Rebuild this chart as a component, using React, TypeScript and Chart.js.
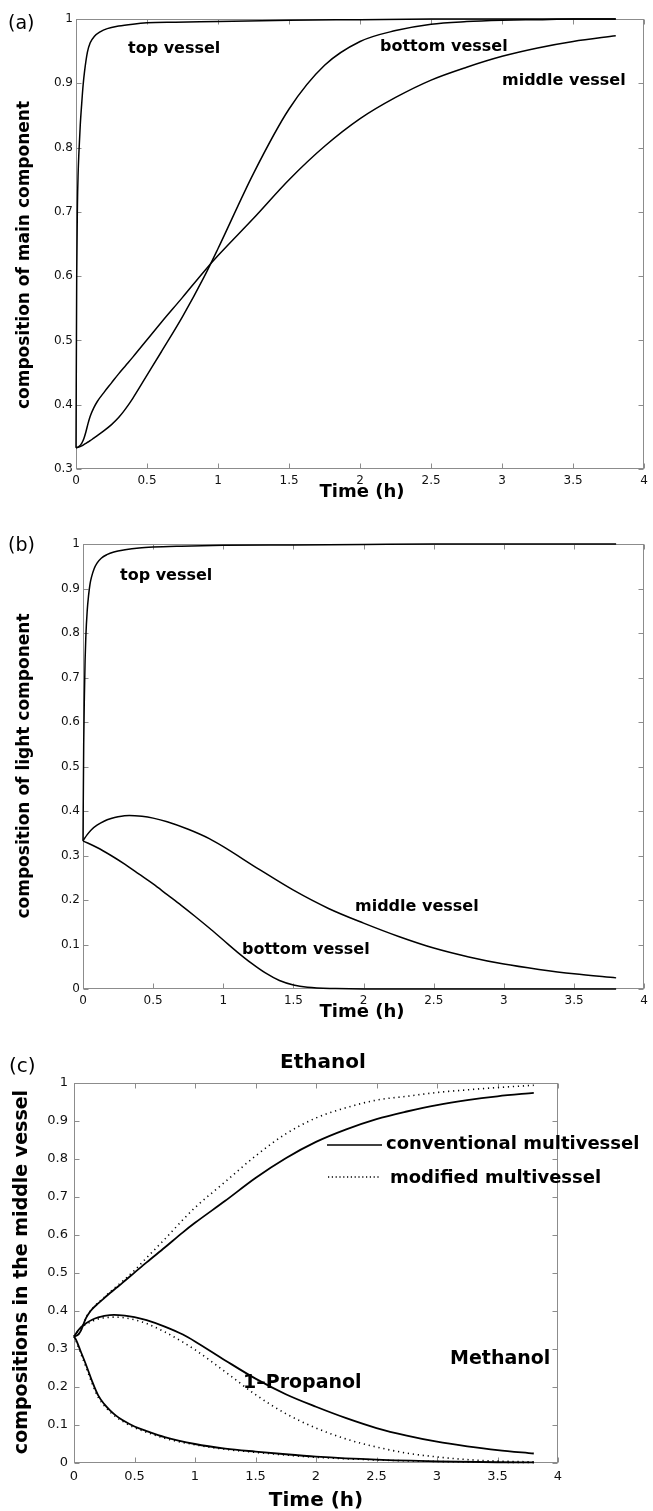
import React, { useEffect, useRef } from "react";
import { Chart, registerables } from "chart.js";

Chart.register(...registerables);

// ---------- tick labels ----------
const xTicks = [0, 0.5, 1, 1.5, 2, 2.5, 3, 3.5, 4];
const yTicksA = [0.3, 0.4, 0.5, 0.6, 0.7, 0.8, 0.9, 1];
const yTicksB = [0, 0.1, 0.2, 0.3, 0.4, 0.5, 0.6, 0.7, 0.8, 0.9, 1];

// ---------- (a) composition of main component ----------
const tTop = [0, 0.005, 0.01, 0.015, 0.02, 0.03, 0.04, 0.05, 0.06, 0.08, 0.1, 0.13, 0.17, 0.22, 0.3, 0.4, 0.5, 0.7, 1.0, 1.5, 2.0, 2.5, 3.0, 3.5, 3.8];
const aTop = [0.333, 0.6, 0.71, 0.76, 0.79, 0.835, 0.868, 0.897, 0.918, 0.948, 0.963, 0.973, 0.98, 0.985, 0.989, 0.992, 0.994, 0.995, 0.996, 0.998, 0.999, 1.0, 1.0, 1.0, 1.0];
const tA = [0, 0.02, 0.04, 0.055, 0.07, 0.085, 0.1, 0.125, 0.15, 0.2, 0.25, 0.3, 0.35, 0.4, 0.5, 0.6, 0.75, 0.9, 1.0, 1.25, 1.5, 1.75, 2.0, 2.25, 2.5, 2.75, 3.0, 3.25, 3.5, 3.8];
const aMiddle = [0.333, 0.335, 0.34, 0.347, 0.358, 0.371, 0.382, 0.395, 0.405, 0.42, 0.434, 0.448, 0.461, 0.474, 0.501, 0.528, 0.567, 0.607, 0.632, 0.69, 0.75, 0.802, 0.845, 0.878, 0.905, 0.925, 0.942, 0.955, 0.965, 0.974];
const aBottom = [0.333, 0.334, 0.336, 0.338, 0.34, 0.342, 0.344, 0.348, 0.352, 0.36, 0.369, 0.38, 0.394, 0.41, 0.446, 0.482, 0.537, 0.598, 0.643, 0.76, 0.86, 0.928, 0.965, 0.982, 0.992, 0.996, 0.998, 0.999, 1.0, 1.0];

// ---------- (b) composition of light component ----------
const bTop = [0.333, 0.55, 0.66, 0.74, 0.79, 0.85, 0.885, 0.91, 0.925, 0.945, 0.957, 0.968, 0.976, 0.982, 0.987, 0.991, 0.993, 0.995, 0.997, 0.998, 0.999, 1.0, 1.0, 1.0, 1.0];
const tB = [0, 0.03, 0.06, 0.1, 0.15, 0.2, 0.25, 0.33, 0.42, 0.5, 0.6, 0.75, 0.9, 1.0, 1.25, 1.5, 1.75, 2.0, 2.25, 2.5, 2.75, 3.0, 3.25, 3.5, 3.8];
const bMiddle = [0.333, 0.347, 0.358, 0.368, 0.377, 0.383, 0.387, 0.39, 0.388, 0.384, 0.376, 0.359, 0.338, 0.32, 0.27, 0.222, 0.181, 0.148, 0.118, 0.092, 0.072, 0.056, 0.044, 0.034, 0.025];
const tBb = [0, 0.1, 0.2, 0.3, 0.4, 0.5, 0.6, 0.7, 0.8, 0.9, 1.0, 1.1, 1.2, 1.3, 1.4, 1.5, 1.6, 1.8, 2.0, 2.5, 3.0, 3.5, 3.8];
const bBottom = [0.333, 0.318, 0.3, 0.28, 0.258, 0.236, 0.212, 0.188, 0.163, 0.137, 0.11, 0.083, 0.058, 0.036, 0.019, 0.009, 0.004, 0.001, 0, 0, 0, 0, 0];

// ---------- (c) compositions in the middle vessel ----------
const cEthanolConv = aMiddle;
const cEthanolMod = [0.333, 0.335, 0.34, 0.347, 0.358, 0.371, 0.383, 0.396, 0.406, 0.422, 0.436, 0.451, 0.464, 0.478, 0.507, 0.54, 0.589, 0.64, 0.672, 0.74, 0.808, 0.866, 0.908, 0.935, 0.955, 0.965, 0.975, 0.982, 0.988, 0.994];
const cPropConv = bMiddle;
const cPropMod = [0.333, 0.346, 0.356, 0.365, 0.373, 0.379, 0.382, 0.384, 0.382, 0.377, 0.367, 0.345, 0.318, 0.298, 0.24, 0.18, 0.13, 0.092, 0.063, 0.042, 0.026, 0.016, 0.009, 0.005, 0.003];
const tM = [0, 0.02, 0.05, 0.1, 0.15, 0.2, 0.25, 0.3, 0.35, 0.4, 0.5, 0.6, 0.75, 1.0, 1.25, 1.5, 1.75, 2.0, 2.5, 3.0, 3.5, 3.8];
const cMethConv = [0.333, 0.322, 0.298, 0.258, 0.215, 0.178, 0.155, 0.138, 0.124, 0.113, 0.096, 0.084, 0.068, 0.05, 0.038, 0.03, 0.023, 0.017, 0.009, 0.0045, 0.002, 0.0015];
const cMethMod = [0.333, 0.319, 0.293, 0.252, 0.209, 0.173, 0.151, 0.134, 0.121, 0.11, 0.093, 0.081, 0.065, 0.048, 0.036, 0.028, 0.021, 0.015, 0.008, 0.004, 0.002, 0.001];

const pts = (t: number[], v: number[]) => t.map((x, i) => ({ x, y: v[i] }));
const fmt = (v: number) => String(Number(Number(v).toFixed(2)));

const SANS = '"DejaVu Sans", sans-serif';

type Txt = { text: string; x: number; y: number; font: string; align?: CanvasTextAlign; baseline?: CanvasTextBaseline; rotate?: boolean };
type Seg = { x1: number; x2: number; y: number; dash?: number[] };

function framePlugin(texts: Txt[], segs: Seg[]) {
  return {
    id: "frame",
    beforeDatasetsDraw(chart: any) {
      const { ctx, chartArea } = chart;
      const l = Math.round(chartArea.left) + 0.5;
      const r = Math.round(chartArea.right) - 0.5;
      const t = Math.round(chartArea.top) + 0.5;
      const b = Math.round(chartArea.bottom) - 0.5;
      ctx.save();
      ctx.strokeStyle = "#8c8c8c";
      ctx.lineWidth = 1;
      ctx.strokeRect(l, t, r - l, b - t);
      const xs = chart.scales.x;
      const ys = chart.scales.y;
      const L = 5;
      ctx.beginPath();
      xs.ticks.forEach((tk: any) => {
        const px = Math.round(xs.getPixelForValue(tk.value)) + 0.5;
        ctx.moveTo(px, b);
        ctx.lineTo(px, b - L);
        ctx.moveTo(px, t);
        ctx.lineTo(px, t + L);
      });
      ys.ticks.forEach((tk: any) => {
        const py = Math.round(ys.getPixelForValue(tk.value)) + 0.5;
        ctx.moveTo(l, py);
        ctx.lineTo(l + L, py);
        ctx.moveTo(r, py);
        ctx.lineTo(r - L, py);
      });
      ctx.stroke();
      ctx.restore();
    },
    afterDraw(chart: any) {
      const { ctx } = chart;
      ctx.save();
      ctx.fillStyle = "#000";
      texts.forEach((tx) => {
        ctx.save();
        ctx.font = tx.font;
        ctx.textAlign = tx.align || "left";
        ctx.textBaseline = tx.baseline || "alphabetic";
        if (tx.rotate) {
          ctx.translate(tx.x, tx.y);
          ctx.rotate(-Math.PI / 2);
          ctx.fillText(tx.text, 0, 0);
        } else {
          ctx.fillText(tx.text, tx.x, tx.y);
        }
        ctx.restore();
      });
      segs.forEach((s) => {
        ctx.save();
        ctx.strokeStyle = "#000";
        ctx.lineWidth = 1.6;
        ctx.setLineDash(s.dash || []);
        ctx.beginPath();
        ctx.moveTo(s.x1, s.y);
        ctx.lineTo(s.x2, s.y);
        ctx.stroke();
        ctx.restore();
      });
      ctx.restore();
    },
  };
}

type PanelSpec = {
  width: number;
  height: number;
  yWidth: number;
  xHeight: number;
  padTop: number;
  padRight: number;
  yMin: number;
  yTicks: number[];
  tickFont: number;
  xPad: number;
  yPad: number;
  datasets: any[];
  texts: Txt[];
  segs: Seg[];
};

function line(data: any[], dotted = false, width = 1.5) {
  return {
    data,
    borderColor: "#000",
    borderWidth: dotted ? 1.6 : width,
    borderDash: dotted ? [1.2, 3.8] : [],
    pointRadius: 0,
    fill: false,
    cubicInterpolationMode: "monotone",
    clip: 6,
  };
}

function Panel({ spec, top }: { spec: PanelSpec; top: number }) {
  const ref = useRef<HTMLCanvasElement | null>(null);
  useEffect(() => {
    if (!ref.current) return;
    const chart = new Chart(ref.current, {
      type: "line",
      data: { datasets: spec.datasets },
      options: {
        animation: false,
        responsive: false,
        maintainAspectRatio: false,
        layout: { padding: { top: spec.padTop, right: spec.padRight, left: 0, bottom: 0 } },
        plugins: { legend: { display: false }, tooltip: { enabled: false }, title: { display: false } },
        scales: {
          x: {
            type: "linear",
            min: 0,
            max: 4,
            afterBuildTicks: (s: any) => {
              s.ticks = xTicks.map((v) => ({ value: v }));
            },
            afterFit: (s: any) => {
              s.height = spec.xHeight;
            },
            grid: { display: false, drawTicks: false },
            border: { display: false },
            ticks: {
              color: "#111",
              font: { family: SANS, size: spec.tickFont },
              padding: spec.xPad,
              maxRotation: 0,
              autoSkip: false,
              callback: (v: any) => fmt(v),
            },
          },
          y: {
            type: "linear",
            min: spec.yMin,
            max: 1,
            afterBuildTicks: (s: any) => {
              s.ticks = spec.yTicks.map((v) => ({ value: v }));
            },
            afterFit: (s: any) => {
              s.width = spec.yWidth;
            },
            grid: { display: false, drawTicks: false },
            border: { display: false },
            ticks: {
              color: "#111",
              font: { family: SANS, size: spec.tickFont },
              padding: spec.yPad,
              autoSkip: false,
              callback: (v: any) => fmt(v),
            },
          },
        },
      } as any,
      plugins: [framePlugin(spec.texts, spec.segs)],
    });
    return () => chart.destroy();
  }, [spec]);
  return (
    <canvas
      ref={ref}
      width={spec.width}
      height={spec.height}
      style={{ position: "absolute", left: 0, top, width: spec.width, height: spec.height }}
    />
  );
}

const B = (s: number) => `bold ${s}px ${SANS}`;
const R = (s: number) => `${s}px ${SANS}`;

// Panel A occupies page y 0..510
const specA: PanelSpec = {
  width: 653,
  height: 510,
  yWidth: 76,
  xHeight: 41,
  padTop: 19,
  padRight: 6,
  yMin: 0.3,
  yTicks: yTicksA,
  tickFont: 12,
  xPad: 5,
  yPad: 3,
  datasets: [line(pts(tTop, aTop)), line(pts(tA, aMiddle)), line(pts(tA, aBottom))],
  texts: [
    { text: "(a)", x: 8, y: 24, font: R(19), baseline: "middle" },
    { text: "top vessel", x: 128, y: 52.5, font: B(16) },
    { text: "bottom vessel", x: 380, y: 51, font: B(16) },
    { text: "middle vessel", x: 502, y: 85, font: B(16) },
    { text: "composition of main component", x: 25, y: 255, font: B(17), rotate: true, align: "center", baseline: "middle" },
    { text: "Time (h)", x: 362, y: 497, font: B(18), align: "center" },
  ],
  segs: [],
};

// Panel B occupies page y 520..1030
const specB: PanelSpec = {
  width: 653,
  height: 510,
  yWidth: 83,
  xHeight: 41,
  padTop: 24,
  padRight: 6,
  yMin: 0,
  yTicks: yTicksB,
  tickFont: 12,
  xPad: 5,
  yPad: 3,
  datasets: [line(pts(tTop, bTop)), line(pts(tB, bMiddle)), line(pts(tBb, bBottom))],
  texts: [
    { text: "(b)", x: 8, y: 26.5, font: R(19), baseline: "middle" },
    { text: "top vessel", x: 120, y: 60, font: B(16) },
    { text: "middle vessel", x: 355, y: 391, font: B(16) },
    { text: "bottom vessel", x: 242, y: 434, font: B(16) },
    { text: "composition of light component", x: 25, y: 246, font: B(17), rotate: true, align: "center", baseline: "middle" },
    { text: "Time (h)", x: 362, y: 497, font: B(18), align: "center" },
  ],
  segs: [],
};

// Panel C occupies page y 1030..1511
const specC: PanelSpec = {
  width: 653,
  height: 481,
  yWidth: 74,
  xHeight: 48,
  padTop: 53,
  padRight: 95,
  yMin: 0,
  yTicks: yTicksB,
  tickFont: 13,
  xPad: 6,
  yPad: 6,
  datasets: [
    line(pts(tA, cEthanolConv), false, 1.8),
    line(pts(tA, cEthanolMod), true),
    line(pts(tB, cPropConv), false, 1.8),
    line(pts(tB, cPropMod), true),
    line(pts(tM, cMethConv), false, 1.8),
    line(pts(tM, cMethMod), true),
  ],
  texts: [
    { text: "(c)", x: 9, y: 37, font: R(20), baseline: "middle" },
    { text: "Ethanol", x: 280, y: 38, font: B(20) },
    { text: "conventional multivessel", x: 386, y: 119, font: B(18) },
    { text: "modified multivessel", x: 390, y: 153, font: B(18) },
    { text: "1–Propanol", x: 243, y: 358, font: B(19) },
    { text: "Methanol", x: 450, y: 334, font: B(19) },
    { text: "compositions in the middle vessel", x: 22, y: 242, font: B(19), rotate: true, align: "center", baseline: "middle" },
    { text: "Time (h)", x: 316, y: 476, font: B(20), align: "center" },
  ],
  segs: [
    { x1: 327, x2: 382, y: 115 },
    { x1: 328, x2: 381, y: 147, dash: [1.2, 2.6] },
  ],
};

export default function App() {
  return (
    <div style={{ position: "absolute", left: 0, top: 0, width: 653, height: 1511, background: "#fff" }}>
      <Panel spec={specA} top={0} />
      <Panel spec={specB} top={520} />
      <Panel spec={specC} top={1030} />
    </div>
  );
}
